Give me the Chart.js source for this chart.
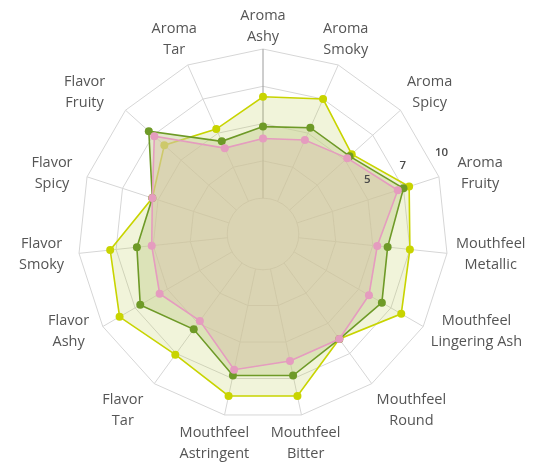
<!DOCTYPE html>
<html>
<head>
<meta charset="utf-8">
<script src="https://cdn.jsdelivr.net/npm/chart.js@4.4.1/dist/chart.umd.min.js"></script>
<style>
    body { margin: 0; background: #fff; }
    #radar-chart { display: block; }
</style>
</head>
<body>
<canvas id="radar-chart" width="545" height="465"></canvas>
<script>
let radarChart;

// axes, clockwise from the top
let axisLabels = [
    ["Aroma", "Ashy"],
    ["Aroma", "Smoky"],
    ["Aroma", "Spicy"],
    ["Aroma", "Fruity"],
    ["Mouthfeel", "Metallic"],
    ["Mouthfeel", "Lingering Ash"],
    ["Mouthfeel", "Round"],
    ["Mouthfeel", "Bitter"],
    ["Mouthfeel", "Astringent"],
    ["Flavor", "Tar"],
    ["Flavor", "Ashy"],
    ["Flavor", "Smoky"],
    ["Flavor", "Spicy"],
    ["Flavor", "Fruity"],
    ["Aroma", "Tar"]];

let pinkValues   = [4.0, 4.5, 5.2, 7.1, 5.3, 5.8, 6.3, 6.3, 6.9, 4.8, 5.6, 5.1, 5.4, 7.4, 3.9];
let greenValues  = [4.8, 5.4, 5.4, 7.5, 6.0, 6.8, 6.3, 7.3, 7.3, 5.5, 7.1, 6.1, 5.4, 7.9, 4.4];
let yellowValues = [6.8, 7.5, 5.6, 7.9, 7.5, 8.3, 6.3, 8.7, 8.7, 7.6, 8.7, 7.9, 5.4, 6.5, 5.3];

// rings of the web, and the text written next to them
let ringValues = [0, 2.5, 5, 7.5, 10];
let tickLabels = ["", "", "5", "7", "10"];

let scaleMin = -2.4;   // leaves the small round hole in the middle
let scaleMax = 10;

window.onload = function() {
    initChart();
};

// grid spokes start at the inner ring, labels are drawn by hand
let radarDecor = {
    id: "radarDecor",
    beforeDatasetsDraw: function(chart) {
        let scale = chart.scales.r;
        let ctx = chart.ctx;
        let inner = scale.getDistanceFromCenterForValue(ringValues[0]);
        let outer = scale.getDistanceFromCenterForValue(scaleMax);
        ctx.save();
        ctx.lineWidth = 1;
        for (let i = axisLabels.length - 1; i >= 0; i--) {
            let a = scale.getPointPosition(i, inner);
            let b = scale.getPointPosition(i, outer);
            ctx.strokeStyle = i === 0 ? "#9c9c9c" : "#d6d6d6";
            ctx.beginPath();
            ctx.moveTo(a.x, a.y);
            ctx.lineTo(b.x, b.y);
            ctx.stroke();
        }
        ctx.restore();
    },
    afterDraw: function(chart) {
        let scale = chart.scales.r;
        let ctx = chart.ctx;
        let outer = scale.getDistanceFromCenterForValue(scaleMax);
        // a couple of labels sit a bit further out
        let nudge = { 3: 10, 13: -8 };
        ctx.save();
        ctx.font = '14.5px "Open Sans"';
        ctx.fillStyle = "#555";
        ctx.textAlign = "center";
        ctx.textBaseline = "middle";
        axisLabels.forEach((lines, i) => {
            let p = scale.getPointPosition(i, outer + 10);
            let ang = i * 2 * Math.PI / axisLabels.length;
            let s = Math.sin(ang);
            let c = Math.cos(ang);
            let w = Math.max(...lines.map(t => ctx.measureText(t).width));
            let x = p.x;
            if (Math.abs(s) > 0.45) {
                x += Math.sign(s) * (w / 2 + 2) - 3;
            } else if (i !== 0) {
                x += s * w * 0.35 - 3;
            }
            x += nudge[i] || 0;
            let y = p.y + (c > 0.95 ? -13 : c > 0.85 ? -16 : c > 0.5 ? -11 : c < -0.7 ? 19 : 0);
            lines.forEach((t, k) => {
                ctx.fillText(t, x, y + (k - (lines.length - 1) / 2) * 21);
            });
        });

        ctx.font = '600 11.5px "Open Sans"';
        ctx.fillStyle = "#4a4a4a";
        ctx.textAlign = "left";
        ringValues.forEach((v, k) => {
            if (!tickLabels[k]) {
                return;
            }
            let d = scale.getDistanceFromCenterForValue(v);
            let p = scale.getPointPosition(3, d);
            ctx.fillText(tickLabels[k], p.x - 4, p.y - 14 - d * 0.057);
        });
        ctx.restore();
    }
};

function initChart() {
    let data = {
        labels: axisLabels,
        datasets: [{
            data: pinkValues,
            borderColor: "#e59cbf",
            backgroundColor: "rgba(215, 182, 170, 0.35)",
            pointBackgroundColor: "#e59cbf"
        }, {
            data: greenValues,
            borderColor: "#6e9a27",
            backgroundColor: "rgba(200, 210, 150, 0.5)",
            pointBackgroundColor: "#6e9a27"
        }, {
            data: yellowValues,
            borderColor: "#c8d400",
            backgroundColor: "rgba(185, 200, 70, 0.2)",
            pointBackgroundColor: "#c8d400"
        }]
    };

    let options = {
        responsive: false,
        animation: false,
        devicePixelRatio: 1,
        layout: {
            padding: { left: 78, right: 97, top: 49, bottom: 46 }
        },
        elements: {
            line: { borderWidth: 1.6, tension: 0, fill: "start" },
            point: { radius: 4, borderWidth: 0, hoverRadius: 4 }
        },
        plugins: {
            legend: { display: false },
            tooltip: { enabled: false }
        },
        scales: {
            r: {
                min: scaleMin,
                max: scaleMax,
                startAngle: 0,
                afterBuildTicks: function(scale) {
                    scale.ticks = ringValues.map(v => ({ value: v }));
                },
                ticks: { display: false },
                pointLabels: { display: false },
                angleLines: { display: false },
                grid: {
                    color: "#d6d6d6",
                    lineWidth: 1,
                    circular: (ctx) => ctx.index === 0
                }
            }
        }
    };

    let ctx = document.getElementById("radar-chart").getContext("2d");
    radarChart = new Chart(ctx, {
        type: "radar",
        data: data,
        options: options,
        plugins: [radarDecor]
    });
}
</script>
</body>
</html>
